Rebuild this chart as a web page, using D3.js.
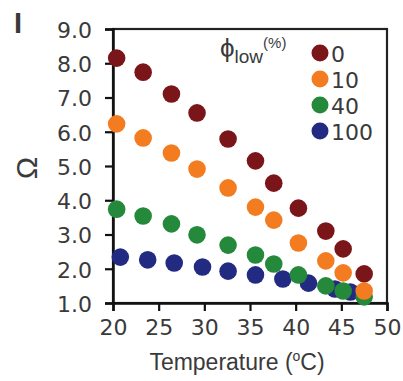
<!DOCTYPE html>
<html>
<head>
<meta charset="utf-8">
<script src="https://cdn.jsdelivr.net/npm/d3@7"></script>
<style>
  html, body { margin: 0; padding: 0; background: #fff; }
  text { font-family: Arial, "Liberation Sans", sans-serif; fill: #3a3a3a; }
  .wide { font-family: "DejaVu Sans", Arial, sans-serif; }
</style>
</head>
<body>
<div id="chart"></div>
<script>
// series labels (phi_low, %)
const seriesNames = ['0', '10', '40', '100'];
const seriesColors = ['#7a1519', '#f47c20', '#25893b', '#222a82'];

// temperatures (°C)
const tempMain = [20.4, 23.3, 26.4, 29.2, 32.6, 35.6, 37.6, 40.3, 43.3, 45.2, 47.5];
const tempBlue = [20.8, 23.8, 26.7, 29.8, 32.6, 35.6, 38.6, 41.4, 44.3, 46.0];

// Omega values per series
const omega0   = [8.15, 7.74, 7.10, 6.55, 5.79, 5.15, 4.50, 3.77, 3.10, 2.58, 1.85];
const omega10  = [6.23, 5.82, 5.38, 4.91, 4.36, 3.80, 3.42, 2.75, 2.23, 1.88, 1.35];
const omega40  = [3.74, 3.54, 3.31, 2.99, 2.69, 2.40, 2.14, 1.82, 1.50, 1.35, 1.18];
const omega100 = [2.34, 2.26, 2.17, 2.05, 1.93, 1.82, 1.70, 1.58, 1.41, 1.32];

const xTicks = [20, 25, 30, 35, 40, 45, 50];
const yTicks = [1, 2, 3, 4, 5, 6, 7, 8, 9];

// draw order: red, blue, green, orange (orange sits on top in the original)
const series = [
  { name: '0',   color: seriesColors[0], t: tempMain, v: omega0 },
  { name: '100', color: seriesColors[3], t: tempBlue, v: omega100 },
  { name: '40',  color: seriesColors[2], t: tempMain, v: omega40 },
  { name: '10',  color: seriesColors[1], t: tempMain, v: omega10 }
];

const width = 403, height = 381;
const margin = { top: 29, right: 16, bottom: 78, left: 113 };

const svg = d3.select('#chart').append('svg')
  .attr('width', width)
  .attr('height', height);

const x = d3.scaleLinear().domain([20, 50]).range([margin.left, width - margin.right]);
const y = d3.scaleLinear().domain([1, 9]).range([height - margin.bottom, margin.top]);

// frame
svg.append('rect')
  .attr('x', x(20)).attr('y', y(9))
  .attr('width', x(50) - x(20)).attr('height', y(1) - y(9))
  .attr('fill', 'none').attr('stroke', '#222').attr('stroke-width', 2.2);

// axes
const xAxis = svg.append('g')
  .attr('transform', `translate(0,${y(1)})`)
  .call(d3.axisBottom(x).tickValues(xTicks).tickSize(8).tickPadding(8).tickFormat(d3.format('d')));
const yAxis = svg.append('g')
  .attr('transform', `translate(${x(20)},0)`)
  .call(d3.axisLeft(y).tickValues(yTicks).tickSize(8).tickPadding(13).tickFormat(d3.format('.1f')));

[xAxis, yAxis].forEach(g => {
  g.select('.domain').attr('stroke', '#111').attr('stroke-width', 2.5);
  g.selectAll('.tick line').attr('stroke', '#111').attr('stroke-width', 2.2);
  g.selectAll('.tick text')
    .attr('class', 'wide')
    .attr('fill', '#3a3a3a')
    .style('font-size', '22px');
});
yAxis.selectAll('.tick text').attr('dy', '0.38em');

// points
series.forEach(s => {
  svg.append('g').selectAll('circle')
    .data(s.t.map((t, i) => [t, s.v[i]]))
    .join('circle')
    .attr('cx', d => x(d[0]))
    .attr('cy', d => y(d[1]))
    .attr('r', 8.8)
    .attr('fill', s.color);
});

// axis titles
svg.append('text')
  .attr('x', 237).attr('y', 370)
  .attr('text-anchor', 'middle')
  .style('font-size', '23px')
  .html('Temperature (<tspan dy="-9" style="font-size:14px">o</tspan><tspan dy="9">C)</tspan>');

svg.append('text')
  .attr('transform', `translate(37,168) rotate(-90)`)
  .attr('text-anchor', 'middle')
  .style('font-size', '30px')
  .attr('fill', '#2a2a2a')
  .text('Ω');

// panel label
svg.append('text')
  .attr('x', 14).attr('y', 33)
  .style('font-size', '29px').style('font-weight', 'bold')
  .attr('fill', '#222')
  .text('I');

// legend
const legend = svg.append('g');
legend.append('text')
  .attr('x', 220).attr('y', 57)
  .style('font-size', '26px')
  .html('ϕ<tspan dy="6" style="font-size:19px">low</tspan><tspan dy="-15" style="font-size:15px">(%)</tspan>');

const legendY = d3.scalePoint().domain(seriesNames).range([53, 131]);
seriesNames.forEach((n, i) => {
  legend.append('circle')
    .attr('cx', 320).attr('cy', legendY(n)).attr('r', 8.5)
    .attr('fill', seriesColors[i]);
  legend.append('text')
    .attr('class', 'wide')
    .attr('x', 331).attr('y', legendY(n) + 8.5)
    .style('font-size', '22px')
    .text(n);
});
</script>
</body>
</html>
